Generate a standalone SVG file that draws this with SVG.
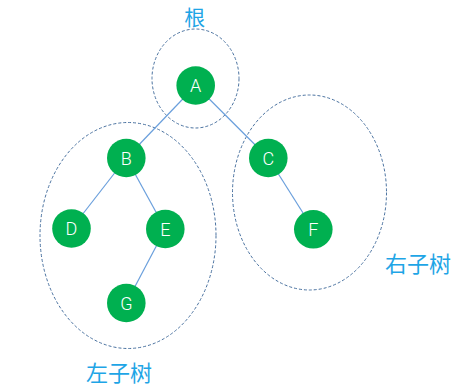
<svg xmlns="http://www.w3.org/2000/svg" width="463" height="390" viewBox="0 0 463 390">
<style>
.grp{fill:none;stroke:#4a72a0;stroke-width:1;stroke-dasharray:3 2}
.edge{stroke:#6a9fdc;stroke-width:1.2;fill:none}
.node circle{fill:#00b050}
.node text{fill:#fff;font-family:Roboto,"Liberation Sans",sans-serif;font-weight:300;font-size:18px;text-anchor:middle;dominant-baseline:central}
.lbl{fill:#1ea5e6;font-family:"Noto Sans CJK SC","Noto Sans CJK JP",sans-serif;font-size:22px}
</style>
<rect width="463" height="390" fill="#fff"/>
<g id="groups">
<ellipse class="grp" cx="195.5" cy="78.5" rx="43.5" ry="49.5"/>
<ellipse class="grp" cx="128" cy="235.5" rx="88" ry="113"/>
<ellipse class="grp" cx="309.5" cy="192.5" rx="77" ry="97.5"/>
</g>
<g id="connectors">
<line class="edge" x1="195.7" y1="85.5" x2="126.3" y2="158"/>
<line class="edge" x1="195.7" y1="85.5" x2="268.3" y2="158"/>
<line class="edge" x1="126.3" y1="158" x2="71.5" y2="228.5"/>
<line class="edge" x1="126.3" y1="158" x2="165.3" y2="229"/>
<line class="edge" x1="165.3" y1="229" x2="126.3" y2="303"/>
<line class="edge" x1="268.3" y1="158" x2="313.3" y2="229.3"/>
</g>
<g id="A" class="node"><circle cx="195.7" cy="85.5" r="19.3"/><text x="195.7" y="85.5">A</text></g>
<g id="B" class="node"><circle cx="126.3" cy="158" r="19.3"/><text x="126.3" y="158">B</text></g>
<g id="C" class="node"><circle cx="268.3" cy="158" r="19.3"/><text x="268.3" y="158">C</text></g>
<g id="D" class="node"><circle cx="71.5" cy="228.5" r="19.3"/><text x="71.5" y="228.5">D</text></g>
<g id="E" class="node"><circle cx="165.3" cy="229" r="19.3"/><text x="165.3" y="229">E</text></g>
<g id="F" class="node"><circle cx="313.3" cy="229.3" r="19.3"/><text x="313.3" y="229.3">F</text></g>
<g id="G" class="node"><circle cx="126.3" cy="303" r="19.3"/><text x="126.3" y="303">G</text></g>
<g id="labels">
<text class="lbl" x="194.7" y="25" text-anchor="middle" style="font-size:21px">根</text>
<text class="lbl" x="385" y="272">右子树</text>
<text class="lbl" x="86" y="381">左子树</text>
</g>
</svg>
